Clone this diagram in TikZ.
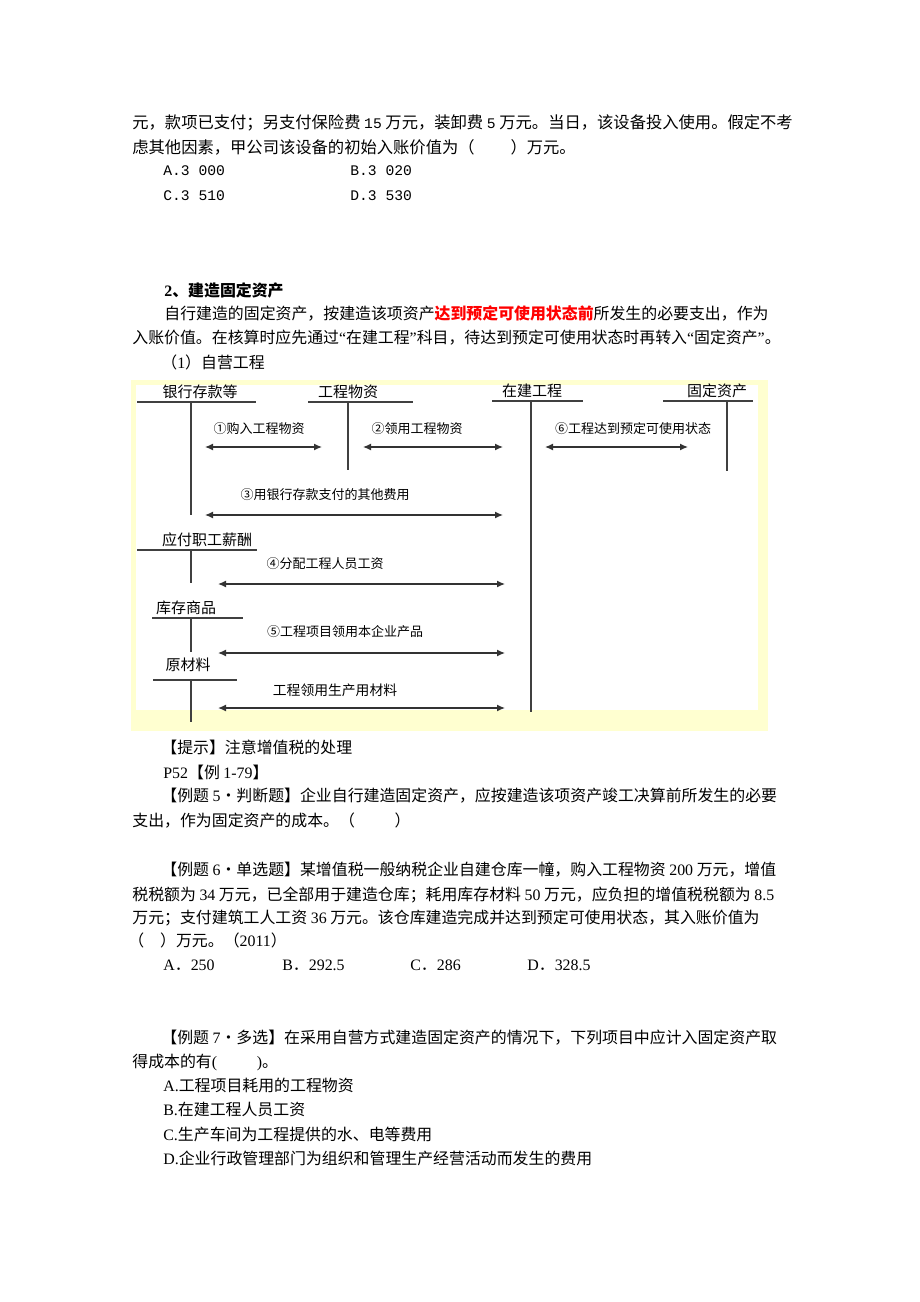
\documentclass[tikz,border=0pt]{standalone}
\usepackage{fontspec}
\setmainfont{Noto Sans CJK SC}
\newfontfamily\tnr{Liberation Serif}
\newfontfamily\mnr{Liberation Mono}[Scale=0.9]
\usetikzlibrary{arrows.meta}
\definecolor{paleyellow}{RGB}{255,255,208}

\tikzset{every picture/.style={line width=0.75pt}}
\tikzset{
  txt/.style={anchor=west, inner sep=0pt, text height=0.88em, text depth=0.12em, font=\fontsize{15.9}{18}\selectfont},
  toptxt/.style={txt, font=\fontsize{16.3}{18}\selectfont},
  acct/.style={inner sep=0pt, text height=0.88em, text depth=0.12em, font=\fontsize{15}{15}\selectfont},
  lbl/.style={inner sep=0pt, text height=0.88em, text depth=0.12em, font=\fontsize{13}{13}\selectfont},
  tline/.style={line width=1.4pt, draw=black!75},
  flow/.style={line width=1.3pt, draw=black!80, {Latex[length=8pt,width=7pt]}-{Latex[length=8pt,width=7pt]}},
}

\begin{document}
\begin{tikzpicture}[x=1pt,y=1pt,yscale=-1,xscale=1]
\useasboundingbox (0,0) rectangle (920,1302);
\fill [white] (0,0) rectangle (920,1302);

% Text Node
\node (q1) at (132,125) [toptxt] {元，款项已支付；另支付保险费 {\mnr 15} 万元，装卸费 {\mnr 5} 万元。当日，该设备投入使用。假定不考};
% Text Node
\node (q2) at (132,150) [toptxt] {虑其他因素，甲公司该设备的初始入账价值为（\hspace{2.2em}）万元。};
% Text Node
\node (qa) at (163,172) [toptxt] {\mnr A.3 000};
% Text Node
\node (qb) at (350,172) [toptxt] {\mnr B.3 020};
% Text Node
\node (qc) at (163,197) [toptxt] {\mnr C.3 510};
% Text Node
\node (qd) at (350,197) [toptxt] {\mnr D.3 530};

% Text Node
\node (sec) at (164,293) [txt] {\bfseries {\tnr 2}、建造固定资产};
% Text Node
\node (p1) at (164,316) [txt] {自行建造的固定资产，按建造该项资产{\bfseries\color{red}达到预定可使用状态前}所发生的必要支出，作为};
% Text Node
\node (p2) at (132,340) [txt] {入账价值。在核算时应先通过{\tnr “}在建工程{\tnr ”}科目，待达到预定可使用状态时再转入{\tnr “}固定资产{\tnr ”}。};
% Text Node
\node (p3) at (161,365) [txt] {（{\tnr 1}）自营工程};

%Shape: Rectangle
\fill [paleyellow] (131,380) rectangle (768,731);
\fill [white] (136,385) rectangle (758,710);

% Text Node
\node (bank) at (200,394) [acct] {银行存款等};
% Text Node
\node (wz) at (348,394) [acct] {工程物资};
% Text Node
\node (zj) at (532,393) [acct] {在建工程};
% Text Node
\node (gd) at (717,393) [acct] {固定资产};
% Text Node
\node (pay) at (207,542) [acct] {应付职工薪酬};
% Text Node
\node (kc) at (186,610) [acct] {库存商品};
% Text Node
\node (ycl) at (188,667) [acct] {原材料};

\coordinate (bank-l) at (137,402);  \coordinate (bank-r) at (256,402);
\coordinate (bank-t) at (191,402);  \coordinate (bank-b) at (191,515);
\coordinate (wz-l) at (308,402);    \coordinate (wz-r) at (413,402);
\coordinate (wz-t) at (348,402);    \coordinate (wz-b) at (348,470);
\coordinate (zj-l) at (492,401);    \coordinate (zj-r) at (583,401);
\coordinate (zj-t) at (531,401);    \coordinate (zj-b) at (531,712);
\coordinate (gd-l) at (663,401);    \coordinate (gd-r) at (753,401);
\coordinate (gd-t) at (727,401);    \coordinate (gd-b) at (727,471);
\coordinate (pay-l) at (137,550);   \coordinate (pay-r) at (257,550);
\coordinate (pay-t) at (191,550);   \coordinate (pay-b) at (191,583);
\coordinate (kc-l) at (152,618);    \coordinate (kc-r) at (243,618);
\coordinate (kc-t) at (191,618);    \coordinate (kc-b) at (191,652);
\coordinate (ycl-l) at (153,680);   \coordinate (ycl-r) at (237,680);
\coordinate (ycl-t) at (191,680);   \coordinate (ycl-b) at (191,722);

%Straight Lines
\foreach \acc in {bank,wz,zj,gd,pay,kc,ycl}{
  \draw [tline] (\acc-l) -- (\acc-r) ;
  \draw [tline] (\acc-t) -- (\acc-b) ;
}

\coordinate (f1s) at (205,447);  \coordinate (f1e) at (322,447);
\coordinate (f2s) at (363,447);  \coordinate (f2e) at (503,447);
\coordinate (f6s) at (545,447);  \coordinate (f6e) at (688,447);
\coordinate (f3s) at (205,515);  \coordinate (f3e) at (503,515);
\coordinate (f4s) at (218,584);  \coordinate (f4e) at (505,584);
\coordinate (f5s) at (218,653);  \coordinate (f5e) at (505,653);
\coordinate (f7s) at (218,708);  \coordinate (f7e) at (505,708);

%Straight Lines
\foreach \f in {f1,f2,f6,f3,f4,f5,f7}{
  \draw [flow] (\f s) -- (\f e) ;
}

% Text Node
\node (l1) at (259,430) [lbl] {①购入工程物资};
% Text Node
\node (l2) at (417,430) [lbl] {②领用工程物资};
% Text Node
\node (l6) at (633,430) [lbl] {⑥工程达到预定可使用状态};
% Text Node
\node (l3) at (325,496) [lbl] {③用银行存款支付的其他费用};
% Text Node
\node (l4) at (325,565) [lbl] {④分配工程人员工资};
% Text Node
\node (l5) at (345,633) [lbl] {⑤工程项目领用本企业产品};
% Text Node
\node (l7) at (335,692) [lbl, font=\fontsize{13.8}{14}\selectfont] {工程领用生产用材料};

% Text Node
\node (tip) at (161,750) [txt] {【提示】注意增值税的处理};
% Text Node
\node (ref) at (163,775) [txt] {{\tnr P52}【例 {\tnr 1-79}】};
% Text Node
\node (e5a) at (161,798) [txt] {【例题 {\tnr 5}・判断题】企业自行建造固定资产，应按建造该项资产竣工决算前所发生的必要};
% Text Node
\node (e5b) at (132,823) [txt] {支出，作为固定资产的成本。（\hspace{2.5em}）};

% Text Node
\node (e6a) at (161,872) [txt] {【例题 {\tnr 6}・单选题】某增值税一般纳税企业自建仓库一幢，购入工程物资 {\tnr 200} 万元，增值};
% Text Node
\node (e6b) at (132,897) [txt] {税税额为 {\tnr 34} 万元，已全部用于建造仓库；耗用库存材料 {\tnr 50} 万元，应负担的增值税税额为 {\tnr 8.5}};
% Text Node
\node (e6c) at (132,920) [txt] {万元；支付建筑工人工资 {\tnr 36} 万元。该仓库建造完成并达到预定可使用状态，其入账价值为};
% Text Node
\node (e6d) at (128,943) [txt] {（\hspace{1em}）万元。（{\tnr 2011}）};
% Text Node
\node (e6oa) at (163,967) [txt] {{\tnr A}．{\tnr 250}};
% Text Node
\node (e6ob) at (282,967) [txt] {{\tnr B}．{\tnr 292.5}};
% Text Node
\node (e6oc) at (410,967) [txt] {{\tnr C}．{\tnr 286}};
% Text Node
\node (e6od) at (527,967) [txt] {{\tnr D}．{\tnr 328.5}};

% Text Node
\node (e7a) at (161,1040) [txt] {【例题 {\tnr 7}・多选】在采用自营方式建造固定资产的情况下，下列项目中应计入固定资产取};
% Text Node
\node (e7b) at (132,1064) [txt] {得成本的有{\tnr (}\hspace{2.5em}{\tnr )}。};
% Text Node
\node (e7oa) at (163,1088) [txt] {{\tnr A.}工程项目耗用的工程物资};
% Text Node
\node (e7ob) at (163,1112) [txt] {{\tnr B.}在建工程人员工资};
% Text Node
\node (e7oc) at (163,1137) [txt] {{\tnr C.}生产车间为工程提供的水、电等费用};
% Text Node
\node (e7od) at (163,1161) [txt] {{\tnr D.}企业行政管理部门为组织和管理生产经营活动而发生的费用};

\end{tikzpicture}
\end{document}
